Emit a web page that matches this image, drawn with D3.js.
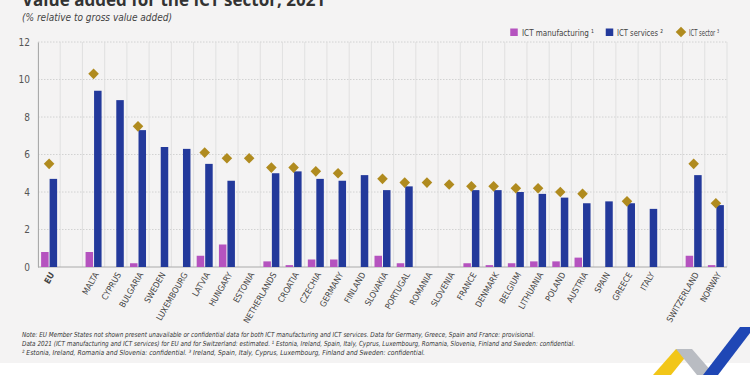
<!DOCTYPE html>
<html>
<head>
<meta charset="utf-8">
<script src="https://cdn.jsdelivr.net/npm/d3@7"></script>
<style>
  body { margin: 0; background: #fff; }
  svg { display: block; }
</style>
</head>
<body>
<div id="chart-container"></div>
<script>
// categories (gaps are empty slots in the chart)
const countries = ["EU", "gap1", "MALTA", "CYPRUS", "BULGARIA", "SWEDEN", "LUXEMBOURG", "LATVIA", "HUNGARY",
  "ESTONIA", "NETHERLANDS", "CROATIA", "CZECHIA", "GERMANY", "FINLAND", "SLOVAKIA", "PORTUGAL",
  "ROMANIA", "SLOVENIA", "FRANCE", "DENMARK", "BELGIUM", "LITHUANIA", "POLAND", "AUSTRIA",
  "SPAIN", "GREECE", "ITALY", "gap2", "SWITZERLAND", "NORWAY"];

// values in % of gross value added (null = not shown)
const manufacturing = [0.8, null, 0.8, null, 0.2, null, null, 0.6, 1.2,
  null, 0.3, 0.1, 0.4, 0.4, null, 0.6, 0.2,
  null, null, 0.2, 0.1, 0.2, 0.3, 0.3, 0.5,
  null, null, null, null, 0.6, 0.1];
const services = [4.7, null, 9.4, 8.9, 7.3, 6.4, 6.3, 5.5, 4.6,
  null, 5.0, 5.1, 4.7, 4.6, 4.9, 4.1, 4.3,
  null, null, 4.1, 4.1, 4.0, 3.9, 3.7, 3.4,
  3.5, 3.4, 3.1, null, 4.9, 3.3];
const sector = [5.5, null, 10.3, null, 7.5, null, null, 6.1, 5.8,
  5.8, 5.3, 5.3, 5.1, 5.0, null, 4.7, 4.5,
  4.5, 4.4, 4.3, 4.3, 4.2, 4.2, 4.0, 3.9,
  null, 3.5, null, null, 5.5, 3.4];

const yTicks = [0, 2, 4, 6, 8, 10, 12];

const W = 750, H = 375;
const plot = {left: 38, right: 727, top: 42, bottom: 267};
const font = "'DejaVu Sans Condensed', 'Liberation Sans Narrow', sans-serif";

const colManu = "#b553bf", colServ = "#23399b", colSect = "#b08b1f";

const svg = d3.select("#chart-container")
  .append("svg")
    .attr("width", W)
    .attr("height", H);

// background
svg.append("rect").attr("width", W).attr("height", H).attr("fill", "#f4f3f3");
svg.append("rect").attr("x", 0).attr("y", 363).attr("width", W).attr("height", 12).attr("fill", "#ffffff");

// title + subtitle
svg.append("text")
  .attr("x", 22).attr("y", 6)
  .style("font-family", "'Open Sans', sans-serif")
  .style("font-weight", "bold")
  .style("font-size", "17px")
  .attr("fill", "#333")
  .text("Value added for the ICT sector, 2021");

svg.append("text")
  .attr("x", 22).attr("y", 21)
  .attr("textLength", 150)
  .attr("lengthAdjust", "spacingAndGlyphs")
  .style("font-family", font)
  .style("font-style", "italic")
  .style("font-size", "11px")
  .attr("fill", "#444")
  .text("(% relative to gross value added)");

// scales
const x = d3.scaleBand().domain(countries).range([plot.left, plot.right]).padding(0);
const y = d3.scaleLinear().domain([0, 12]).range([plot.bottom, plot.top]);

// horizontal grid
svg.append("g")
  .selectAll("line")
  .data(yTicks.filter(d => d > 0))
  .join("line")
    .attr("x1", plot.left).attr("x2", plot.right)
    .attr("y1", d => y(d)).attr("y2", d => y(d))
    .attr("stroke", "#c9c9c9")
    .attr("stroke-width", 0.8)
    .attr("stroke-dasharray", "1.5 1.5");

// vertical grid at slot edges
const edges = countries.map(c => x(c)).concat([plot.right]);
svg.append("g")
  .selectAll("line")
  .data(edges)
  .join("line")
    .attr("x1", d => d).attr("x2", d => d)
    .attr("y1", plot.top).attr("y2", plot.bottom)
    .attr("stroke", "#dcdcdc")
    .attr("stroke-width", 0.8);

// y axis
const yAxis = svg.append("g")
  .attr("transform", `translate(${plot.left},0)`)
  .call(d3.axisLeft(y).tickValues(yTicks).tickSize(0).tickPadding(8));
yAxis.select(".domain").attr("stroke", "#aaa").attr("stroke-width", 1);
yAxis.selectAll("text")
  .style("font-family", font)
  .style("font-size", "10px")
  .attr("fill", "#555");

// baseline
svg.append("line")
  .attr("x1", plot.left).attr("x2", plot.right)
  .attr("y1", y(0)).attr("y2", y(0))
  .attr("stroke", "#aaa").attr("stroke-width", 1);

const bw = 7.5;
const data = countries.map((c, i) => ({c, m: manufacturing[i], s: services[i], t: sector[i]}));
const cx = d => x(d.c) + x.bandwidth() / 2;

// manufacturing bars
svg.append("g")
  .selectAll("rect")
  .data(data.filter(d => d.m != null))
  .join("rect")
    .attr("x", d => cx(d) - bw - 0.5)
    .attr("y", d => y(d.m))
    .attr("width", bw)
    .attr("height", d => y(0) - y(d.m))
    .attr("fill", colManu);

// services bars
svg.append("g")
  .selectAll("rect")
  .data(data.filter(d => d.s != null))
  .join("rect")
    .attr("x", d => cx(d) + 0.5)
    .attr("y", d => y(d.s))
    .attr("width", bw)
    .attr("height", d => y(0) - y(d.s))
    .attr("fill", colServ);

// sector diamonds
const diamond = d3.symbol().type(d3.symbolSquare).size(56);
svg.append("g")
  .selectAll("path")
  .data(data.filter(d => d.t != null))
  .join("path")
    .attr("d", diamond)
    .attr("transform", d => `translate(${cx(d)},${y(d.t)}) rotate(45)`)
    .attr("fill", colSect);

// x labels
svg.append("g")
  .selectAll("text")
  .data(countries.filter(c => !c.startsWith("gap")))
  .join("text")
    .attr("transform", c => `translate(${x(c) + x.bandwidth() / 2 + 3},${plot.bottom + 6}) rotate(-60)`)
    .attr("text-anchor", "end")
    .attr("dy", "0.35em")
    .style("font-family", font)
    .style("font-size", "8.5px")
    .style("font-weight", c => c === "EU" ? "bold" : "normal")
    .attr("fill", "#444")
    .text(c => c);

// legend
const legend = svg.append("g").style("font-family", font).style("font-size", "9.5px").attr("fill", "#444");
const legendItems = [
  {label: "ICT manufacturing ¹", mx: 514, tx: 522, len: 72, color: colManu, shape: "square"},
  {label: "ICT services ²", mx: 609.5, tx: 617, len: 46, color: colServ, shape: "square"},
  {label: "ICT sector ³", mx: 681, tx: 689, len: 30, color: colSect, shape: "diamond"}
];
legendItems.forEach(d => {
  if (d.shape === "square") {
    legend.append("rect").attr("x", d.mx - 3.75).attr("y", 28.5).attr("width", 7.5).attr("height", 7.5).attr("fill", d.color);
  } else {
    legend.append("path").attr("d", diamond).attr("transform", `translate(${d.mx},32) rotate(45)`).attr("fill", d.color);
  }
  legend.append("text").attr("x", d.tx).attr("y", 35.5)
    .attr("textLength", d.len).attr("lengthAdjust", "spacingAndGlyphs")
    .text(d.label);
});

// notes
const notes = [
  "Note: EU Member States not shown present unavailable or confidential data for both ICT manufacturing and ICT services. Data for Germany, Greece, Spain and France: provisional.",
  "Data 2021 (ICT manufacturing and ICT services) for EU and for Switzerland: estimated. ¹ Estonia, Ireland, Spain, Italy, Cyprus, Luxembourg, Romania, Slovenia, Finland and Sweden: confidential.",
  "² Estonia, Ireland, Romania and Slovenia: confidential. ³ Ireland, Spain, Italy, Cyprus, Luxembourg, Finland and Sweden: confidential."
];
const noteLen = [513, 553, 403];
svg.append("g")
  .selectAll("text")
  .data(notes)
  .join("text")
    .attr("x", 22)
    .attr("y", (d, i) => 337 + i * 8.8)
    .attr("textLength", (d, i) => noteLen[i])
    .attr("lengthAdjust", "spacingAndGlyphs")
    .style("font-family", font)
    .style("font-style", "italic")
    .style("font-size", "7px")
    .attr("fill", "#333")
    .text(d => d);

// logo ribbons bottom right
const logo = svg.append("g");
logo.append("polygon").attr("points", "653,375 676,349 692,349 671,375").attr("fill", "#f2c618");
logo.append("polygon").attr("points", "676,349 692,349 712,372 703,375 697,375").attr("fill", "#b9bcc2");
logo.append("polygon").attr("points", "703,375 740,327 750,327 750,333 718,375").attr("fill", "#1f47b5");
</script>
</body>
</html>
